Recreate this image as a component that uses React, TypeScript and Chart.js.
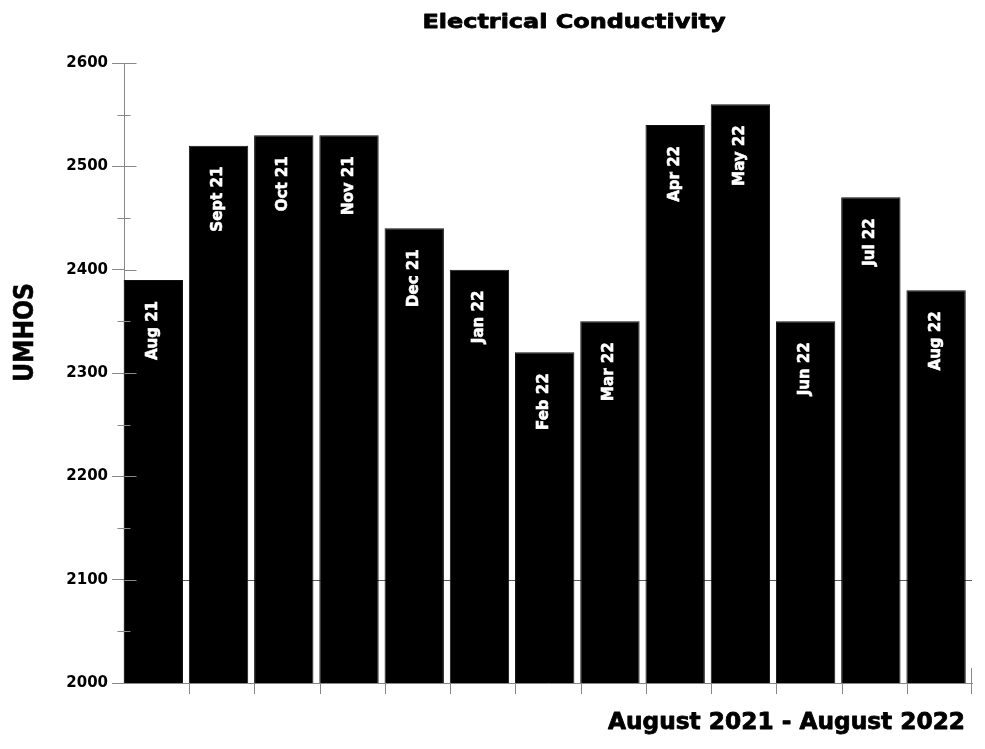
import React, { useEffect, useRef } from "react";
import { Chart, registerables } from "chart.js";

Chart.register(...registerables);

const categories = [
  "Aug 21", "Sept 21", "Oct 21", "Nov 21", "Dec 21", "Jan 22", "Feb 22",
  "Mar 22", "Apr 22", "May 22", "Jun 22", "Jul 22", "Aug 22",
];
const values = [2390, 2520, 2530, 2530, 2440, 2400, 2320, 2350, 2540, 2560, 2350, 2470, 2380];
const yMin = 2000;
const yMax = 2600;
const yStep = 100;
const yMinorStep = 50;
const referenceLineValue = 2100;
const chartTitle = "Electrical Conductivity";
const yAxisTitle = "UMHOS";
const xAxisTitle = "August 2021 - August 2022";

const FONT = '"DejaVu Sans", "Liberation Sans", sans-serif';
const AXIS_COLOR = "#888888";
const BAR_SHIFT = -3.3;

function drawText(
  ctx: CanvasRenderingContext2D,
  text: string,
  x: number,
  y: number,
  size: number,
  align: CanvasTextAlign,
  targetWidth?: number,
  rotate?: number,
  stroke?: number
) {
  ctx.save();
  ctx.font = `bold ${size}px ${FONT}`;
  const w = ctx.measureText(text).width;
  const sx = targetWidth ? targetWidth / w : 1;
  ctx.translate(x, y);
  if (rotate) ctx.rotate(rotate);
  ctx.scale(sx, 1);
  ctx.textAlign = align;
  ctx.textBaseline = "alphabetic";
  ctx.fillStyle = "#000";
  ctx.fillText(text, 0, 0);
  if (stroke) {
    ctx.strokeStyle = "#000";
    ctx.lineWidth = stroke;
    ctx.lineJoin = "round";
    ctx.strokeText(text, 0, 0);
  }
  ctx.restore();
}

const decorPlugin = {
  id: "decor",
  beforeDatasetsDraw(chart: any) {
    const { ctx, chartArea, scales } = chart;
    const y = scales.y;
    const py = Math.round(y.getPixelForValue(referenceLineValue)) + 0.5;
    ctx.save();
    ctx.strokeStyle = "#5a5a5a";
    ctx.lineWidth = 1;
    ctx.beginPath();
    ctx.moveTo(chartArea.left, py);
    ctx.lineTo(chartArea.right, py);
    ctx.stroke();
    ctx.restore();
    ctx.save();
    ctx.translate(BAR_SHIFT, 0);
  },
  afterDatasetsDraw(chart: any) {
    const { ctx } = chart;
    const meta = chart.getDatasetMeta(0);
    ctx.save();
    ctx.font = `bold 15px ${FONT}`;
    ctx.fillStyle = "#ffffff";
    ctx.strokeStyle = "#ffffff";
    ctx.lineWidth = 0.6;
    ctx.textAlign = "right";
    ctx.textBaseline = "alphabetic";
    meta.data.forEach((el: any, i: number) => {
      ctx.save();
      ctx.translate(el.x + 3.5, el.y + 21);
      ctx.rotate(-Math.PI / 2);
      ctx.fillText(categories[i], 0, 0);
      ctx.strokeText(categories[i], 0, 0);
      ctx.restore();
    });
    ctx.restore();
    ctx.restore();
  },
  afterDraw(chart: any) {
    const { ctx, chartArea, scales } = chart;
    const x = scales.x;
    const y = scales.y;
    const ax = chartArea.left + 0.5;
    ctx.save();
    ctx.strokeStyle = AXIS_COLOR;
    ctx.lineWidth = 1;
    ctx.beginPath();
    for (let v = yMin; v <= yMax; v += yMinorStep) {
      const py = Math.round(y.getPixelForValue(v)) + 0.5;
      if (v % yStep === 0) {
        ctx.moveTo(ax, py);
        ctx.lineTo(ax + 12, py);
      } else {
        ctx.moveTo(ax - 7, py);
        ctx.lineTo(ax + 6, py);
      }
    }
    const n = categories.length;
    const bottom = chartArea.bottom;
    for (let i = 1; i <= n; i++) {
      const bx =
        i < n
          ? Math.round((x.getPixelForValue(i - 1) + x.getPixelForValue(i)) / 2) + 0.5
          : Math.round(chartArea.right) - 0.5;
      if (i < n) {
        ctx.moveTo(bx, bottom);
        ctx.lineTo(bx, bottom + 11);
      } else {
        ctx.moveTo(bx, bottom - 15);
        ctx.lineTo(bx, bottom + 11);
      }
    }
    ctx.stroke();
    ctx.restore();

    const cx = (chartArea.left + chartArea.right) / 2 + 26;
    drawText(ctx, chartTitle, cx, 28, 20, "center", 303, 0, 0.8);
    drawText(ctx, yAxisTitle, 33.3, 332.5, 27, "center", 99, -Math.PI / 2, 0.6);
    drawText(ctx, xAxisTitle, chartArea.right - 7, 729, 23, "right", 357, 0, 0.8);
  },
};

export default function App() {
  const canvasRef = useRef<HTMLCanvasElement | null>(null);

  useEffect(() => {
    const canvas = canvasRef.current;
    if (!canvas) return;
    const chart = new Chart(canvas, {
      type: "bar",
      data: {
        labels: categories,
        datasets: [
          {
            data: values,
            backgroundColor: "#000000",
            borderColor: "#111111",
            borderWidth: 1,
            barPercentage: 0.91,
            categoryPercentage: 1,
          },
        ],
      },
      options: {
        responsive: false,
        animation: false,
        layout: { padding: { left: 64, right: 13, top: 63, bottom: 46 } },
        plugins: {
          legend: { display: false },
          tooltip: { enabled: false },
          title: { display: false },
        },
        scales: {
          x: {
            type: "category",
            offset: true,
            ticks: { display: false },
            grid: { display: false },
            border: { display: true, color: AXIS_COLOR, width: 1 },
            afterFit: (s: any) => {
              s.height = 20;
            },
          },
          y: {
            min: yMin,
            max: yMax,
            ticks: {
              stepSize: yStep,
              color: "#000000",
              padding: 4,
              font: { family: FONT, weight: "bold", size: 15 },
              callback: (v: any) => String(v),
            },
            grid: { drawOnChartArea: false, tickLength: 12, color: AXIS_COLOR },
            border: { display: true, color: AXIS_COLOR, width: 1 },
            afterFit: (s: any) => {
              s.width = 60;
            },
          },
        },
      } as any,
      plugins: [decorPlugin],
    });
    return () => chart.destroy();
  }, []);

  return (
    <div style={{ position: "absolute", left: 0, top: 0, width: 985, height: 749, background: "#fff" }}>
      <canvas ref={canvasRef} width={985} height={749} style={{ display: "block" }} />
    </div>
  );
}
